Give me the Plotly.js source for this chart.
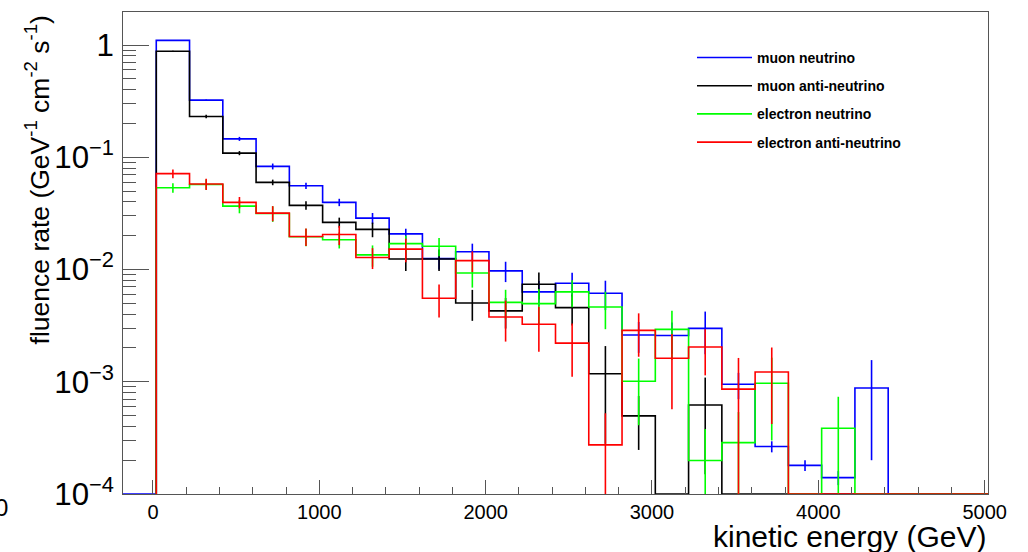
<!DOCTYPE html>
<html><head><meta charset="utf-8">
<script src="https://cdn.plot.ly/plotly-3.0.1.min.js"></script>
<style>html,body{margin:0;padding:0;background:#fff}#chart{width:1028px;height:552px}</style>
</head><body><div id="chart"></div>
<script>
// Histogram bin edges (GeV), 25 bins of 200 GeV
const binEdges = [20,220,420,620,820,1020,1220,1420,1620,1820,2020,2220,2420,2620,2820,3020,3220,3420,3620,3820,4020,4220,4420,4620,4820,5020];
const xAxisMin = -180;
const xAxisMax = 5020;
const yAxisMin = 1e-4;

const seriesNames = ["muon neutrino","muon anti-neutrino","electron neutrino","electron anti-neutrino"];
const seriesColors = ["#0000ff","#000000","#00ff00","#ff0000"];

// fluence rate values per bin
const muonNu     = [1.10,0.323,0.146,0.083,0.0557,0.0397,0.0287,0.0208,0.0125,0.0144,0.00973,0.00632,0.00755,0.00615,0.00261,0.00258,0.00299,0.00095,0.000265,0.00018,0.00014,0.00088,0,0,0];
const muonNuErr  = [0.01,0.004,0.006,0.005,0.0036,0.003,0.0032,0.0023,0.0025,0.0026,0.002,0.0016,0.0018,0.0018,0.0008,0.0008,0.00123,0.00025,0.00003,0.00002,0.00002,0.00068,0,0,0];

const muonAnti    = [0.88,0.231,0.109,0.0598,0.0373,0.0263,0.0228,0.0124,0.0124,0.00504,0.00428,0.0074,0.00458,0.00118,0.000497,0,0.00062,0,0,0,0,0,0,0,0];
const muonAntiErr = [0.01,0.008,0.0046,0.0034,0.0032,0.0027,0.0034,0.0027,0.0027,0.00155,0.0013,0.002,0.0014,0.0009,0.00025,0,0.00047,0,0,0,0,0,0,0,0];

const elecNu     = [0.0536,0.0573,0.0367,0.0316,0.0196,0.0184,0.0135,0.0170,0.0161,0.0093,0.0051,0.00497,0.00632,0.00464,0.00101,0.00293,0.000199,0.000287,0.00097,0,0.000385,0,0,0,0];
const elecNuErr  = [0.0052,0.006,0.005,0.005,0.0035,0.003,0.0029,0.003,0.003,0.0024,0.0015,0.0017,0.0017,0.0017,0.0006,0.00137,0.00018,0.00025,0.00067,0,0.00035,0,0,0,0];

const elecAnti    = [0.0715,0.0578,0.0397,0.0318,0.0197,0.0205,0.0128,0.0152,0.00554,0.0120,0.00378,0.00325,0.00221,0.000274,0.00287,0.00162,0.00204,0.00086,0.00122,0,0,0,0,0,0];
const elecAntiErr = [0.0064,0.0066,0.0046,0.0049,0.0035,0.004,0.0027,0.0036,0.0018,0.0025,0.0015,0.0014,0.0011,0.00025,0.0012,0.00105,0.0009,0.00077,0.0008,0,0,0,0,0,0];

const allValues = [muonNu, muonAnti, elecNu, elecAnti];
const allErrors = [muonNuErr, muonAntiErr, elecNuErr, elecAntiErr];
const startEdges = [xAxisMin, binEdges[0], binEdges[0], binEdges[0]];

const centers = binEdges.slice(0,-1).map((e,i)=>(e+binEdges[i+1])/2);
const traces = [];
allValues.forEach((vals, s) => {
  const shown = vals.map(v => v > 0 ? v : yAxisMin);
  // step line: point at start edge, then each bin low edge, final upper edge
  const xStep = [startEdges[s]].concat(binEdges.slice(0,-1)).concat([binEdges[binEdges.length-1]]);
  const yStep = [yAxisMin].concat(shown);
  yStep.push(shown[shown.length-1]);
  traces.push({
    type:'scatter', mode:'lines', x:xStep, y:yStep, line:{shape:'hv', color:seriesColors[s], width:1.6},
    name:seriesNames[s], legendgroup:'g'+s, hoverinfo:'skip'
  });
  traces.push({
    type:'scatter', mode:'markers', x:centers, y:vals.map(v => v > 0 ? v : null),
    marker:{size:1, opacity:0, color:seriesColors[s]},
    error_y:{type:'data', array:allErrors[s], symmetric:true, width:0, thickness:1.6, color:seriesColors[s]},
    showlegend:false, legendgroup:'g'+s, hoverinfo:'skip'
  });
});

const font = "Liberation Sans, Arial, Helvetica, sans-serif";
const layout = {
  width:1028, height:552,
  margin:{l:123, r:40, t:12, b:58},
  paper_bgcolor:'#ffffff', plot_bgcolor:'#ffffff',
  showlegend:true,
  legend:{x:0.6578, y:0.938, xanchor:'left', yanchor:'top', bgcolor:'rgba(0,0,0,0)', borderwidth:0,
          font:{family:font, size:14, weight:'bold', color:'#000'}, traceorder:'grouped', tracegroupgap:7, itemwidth:55},
  xaxis:{range:[xAxisMin, xAxisMax], dtick:1000, tick0:0, ticks:'inside', ticklen:14, tickcolor:'#555', tickwidth:1,
         showgrid:false, zeroline:false, showline:true, linecolor:'#555', linewidth:1, mirror:true,
         tickfont:{family:font, size:20, color:'#000'},
         minor:{dtick:200, tick0:0, ticks:'inside', ticklen:7, tickcolor:'#555', showgrid:false}},
  yaxis:{type:'log', range:[-4, 0.2946], dtick:1, exponentformat:'power', ticks:'inside', ticklen:26, tickcolor:'#555', tickwidth:1,
         showgrid:false, zeroline:false, showline:true, linecolor:'#555', linewidth:1, mirror:true,
         tickfont:{family:font, size:25, color:'#000'}, ticklabelstandoff:3,
         minor:{dtick:'D1', ticks:'inside', ticklen:13, tickcolor:'#555', showgrid:false}},
  annotations:[
    {text:'fluence rate (GeV<sup>-1</sup> cm<sup>-2</sup> s<sup>-1</sup>)', textangle:-90, xref:'paper', yref:'paper',
     x:-0.0983, y:0.998, xanchor:'center', yanchor:'top', showarrow:false, font:{family:font, size:26.5, color:'#000'}},
    {text:'kinetic energy (GeV)', xref:'paper', yref:'paper', x:1.0, y:-0.089, xanchor:'right', yanchor:'middle',
     showarrow:false, font:{family:font, size:30, color:'#000'}},
    {text:'0', xref:'paper', yref:'paper', x:-0.141, y:-0.029, xanchor:'center', yanchor:'middle',
     showarrow:false, font:{family:font, size:24, color:'#000'}}
  ]
};
Plotly.newPlot('chart', traces, layout, {displayModeBar:false, staticPlot:true});
</script>
</body></html>
